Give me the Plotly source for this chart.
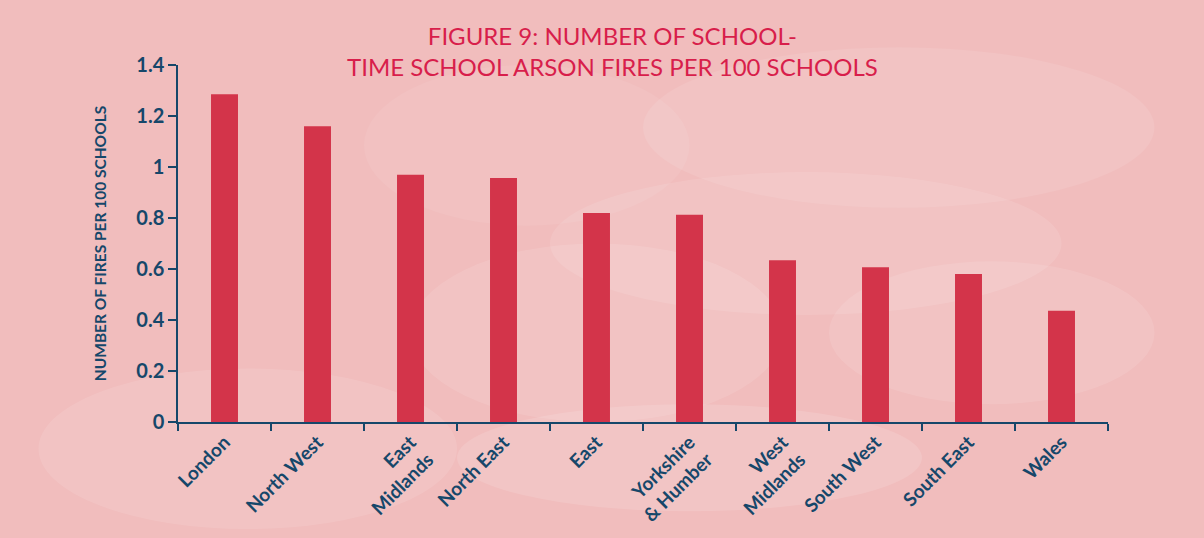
import plotly.graph_objects as go

regions = ["London", "North West", "East<br>Midlands", "North East", "East",
           "Yorkshire<br>& Humber", "West<br>Midlands", "South West", "South East", "Wales"]
fires_per_100 = [1.285, 1.16, 0.97, 0.957, 0.82, 0.813, 0.634, 0.607, 0.58, 0.436]
y_ticks = [0, 0.2, 0.4, 0.6, 0.8, 1, 1.2, 1.4]
y_tick_text = ["0", "0.2", "0.4", "0.6", "0.8", "1", "1.2", "1.4"]

navy = "#16476a"
bar_red = "#d3344a"
title_red = "#d81e4b"

fig = go.Figure(go.Bar(x=regions, y=fires_per_100, marker_color=bar_red,
                       marker_line_width=0, hoverinfo="skip"))

# soft smoke-like background highlights (decorative, paper coords)
smoke = [
    (0.25, 0.0, 0.65, 0.5, 0.10),
    (0.4, 0.3, 0.95, 0.7, 0.10),
    (0.5, 0.6, 1.05, 1.05, 0.09),
    (-0.15, -0.3, 0.3, 0.15, 0.10),
    (0.7, 0.05, 1.05, 0.45, 0.10),
    (0.2, 0.55, 0.55, 1.0, 0.07),
    (0.3, -0.25, 0.8, 0.05, 0.12),
]
shapes = []
for x0, y0, x1, y1, op in smoke:
    shapes.append(dict(type="circle", xref="paper", yref="paper", x0=x0, y0=y0,
                       x1=x1, y1=y1, fillcolor="white", opacity=op,
                       line_width=0, layer="below"))

fig.update_layout(
    width=1204, height=538,
    margin=dict(l=178, r=96, t=65, b=113),
    paper_bgcolor="#f1bdbd",
    plot_bgcolor="rgba(0,0,0,0)",
    bargap=0.71,
    showlegend=False,
    shapes=shapes,
    font=dict(family="Lato", color=navy),
    annotations=[dict(
        text="FIGURE 9: NUMBER OF SCHOOL-<br>TIME SCHOOL ARSON FIRES PER 100 SCHOOLS",
        xref="paper", yref="paper", x=0.467, y=1.0, xanchor="center", yanchor="bottom",
        yshift=-18, showarrow=False, align="center",
        font=dict(family="Lato", size=24, color=title_red))],
    xaxis=dict(
        showline=True, linecolor=navy, linewidth=1.5,
        ticks="outside", tickson="boundaries", ticklen=7, tickcolor=navy, tickwidth=1.5,
        tickangle=-45, tickfont=dict(family="Lato", size=19, color=navy, weight="bold"),
        showgrid=False,
    ),
    yaxis=dict(
        range=[0, 1.4], tickvals=y_ticks, ticktext=y_tick_text,
        showline=True, linecolor=navy, linewidth=1.5,
        ticks="outside", ticklen=8, tickcolor=navy, tickwidth=1.5,
        tickfont=dict(family="Lato", size=20, color=navy, weight="bold"),
        showgrid=False, zeroline=False,
        title=dict(text="NUMBER OF FIRES PER 100 SCHOOLS", standoff=26,
                   font=dict(family="Lato", size=15.5, color=navy, weight="bold")),
    ),
)

fig.write_html("out.html", config={"displayModeBar": False},
               post_script="document.body.style.margin='0';")
